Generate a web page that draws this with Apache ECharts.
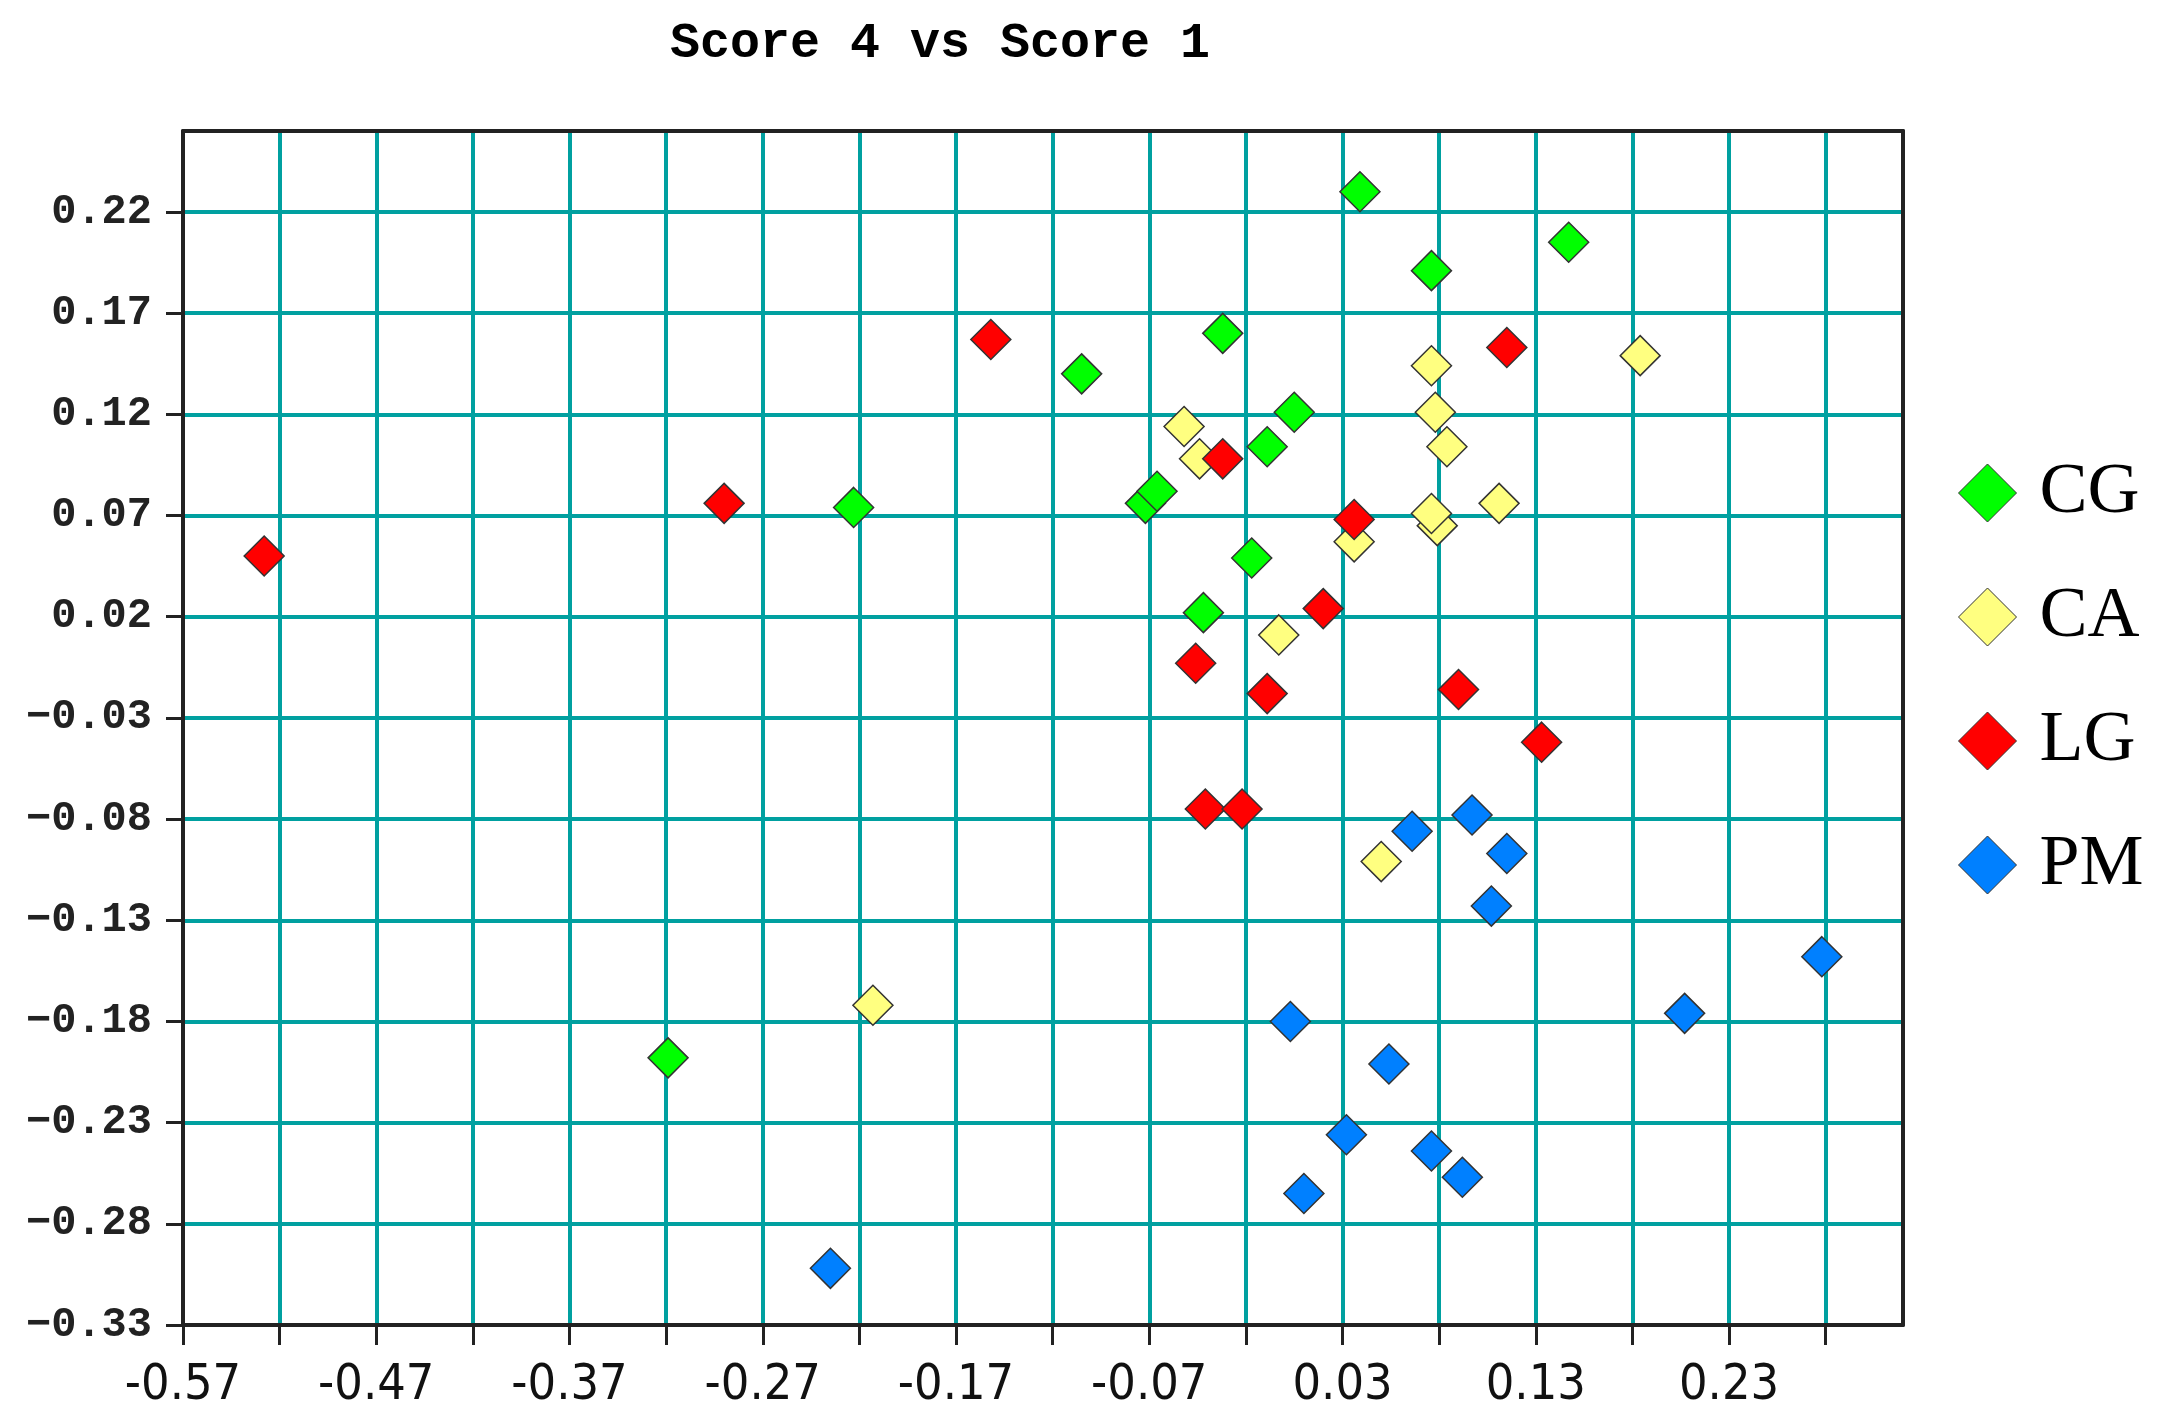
<!DOCTYPE html>
<html>
<head>
<meta charset="utf-8">
<title>Score 4 vs Score 1</title>
<script src="https://cdn.jsdelivr.net/npm/echarts@6/dist/echarts.min.js"></script>
<style>
html, body { margin: 0; padding: 0; background: #fff; }
#chart { width: 2158px; height: 1422px; }
</style>
</head>
<body>
<div id="chart"></div>
<script>
// [score 1, score 4]
const cgPoints = [
  [0.039, 0.230], [0.147, 0.205], [0.076, 0.191], [-0.032, 0.160], [-0.105, 0.140],
  [0.005, 0.121], [-0.009, 0.104], [-0.072, 0.076], [-0.066, 0.082], [-0.223, 0.074],
  [-0.017, 0.049], [-0.042, 0.022], [-0.319, -0.198]
]
const caPoints = [
  [0.184, 0.149], [0.076, 0.144], [0.078, 0.121], [-0.044, 0.098], [-0.052, 0.114],
  [0.084, 0.104], [0.111, 0.076], [0.079, 0.065], [0.076, 0.071], [0.036, 0.057],
  [-0.003, 0.011], [0.050, -0.101], [-0.213, -0.172]
]
const lgPoints = [
  [0.115, 0.153], [-0.152, 0.157], [-0.032, 0.098], [-0.290, 0.076], [0.036, 0.068],
  [-0.528, 0.050], [0.020, 0.024], [-0.046, -0.003], [-0.009, -0.018], [0.090, -0.016],
  [0.133, -0.042], [-0.041, -0.075], [-0.022, -0.075]
]
const pmPoints = [
  [0.066, -0.086], [0.097, -0.078], [0.115, -0.097], [0.107, -0.123], [0.278, -0.148],
  [0.207, -0.176], [0.003, -0.180], [0.054, -0.201], [0.032, -0.236], [0.076, -0.244],
  [0.092, -0.257], [0.010, -0.265], [-0.235, -0.302]
]
const groupNames = ['CG', 'CA', 'LG', 'PM']

const xLabelTicks = [-0.57, -0.47, -0.37, -0.27, -0.17, -0.07, 0.03, 0.13, 0.23]
const yLabelTicks = [0.22, 0.17, 0.12, 0.07, 0.02, -0.03, -0.08, -0.13, -0.18, -0.23, -0.28, -0.33]

const chart = echarts.init(document.getElementById('chart'))

const groupData = [cgPoints, caPoints, lgPoints, pmPoints]
const groupColors = ['#00ff00', '#ffff80', '#ff0000', '#0080ff']

function hasTick (list, v) {
  return list.some(t => Math.abs(t - v) < 1e-6)
}

const gridLine = { show: true, lineStyle: { color: '#00a0a0', width: 4 } }
const axisLine = { show: true, onZero: false, lineStyle: { color: '#222', width: 4 } }
const axisTick = { show: true, inside: false, lineStyle: { color: '#222', width: 3 } }
// top and right edges of the frame, drawn above the grid lines
const frameAxis = {
  type: 'value',
  z: 5,
  axisLine: axisLine,
  axisTick: { show: false },
  axisLabel: { show: false },
  splitLine: { show: false }
}

const option = {
  backgroundColor: '#fff',
  animation: false,
  title: {
    text: 'Score 4 vs Score 1',
    left: 665,
    top: 14,
    textStyle: {
      fontFamily: 'Liberation Mono',
      fontWeight: 'bold',
      fontSize: 50,
      color: '#000'
    }
  },
  legend: {
    orient: 'vertical',
    left: 1953,
    top: 452,
    itemWidth: 58,
    itemHeight: 58,
    itemGap: 52,
    icon: 'diamond',
    data: groupNames,
    itemStyle: { borderColor: '#333', borderWidth: 1 },
    textStyle: {
      fontFamily: 'Liberation Serif',
      fontSize: 72,
      lineHeight: 70,
      color: '#000',
      padding: [0, 0, 0, 18]
    }
  },
  grid: {
    left: 183,
    top: 131,
    right: 255,
    bottom: 97,
    show: false,
    containLabel: false
  },
  xAxis: [{
    type: 'value',
    min: -0.57,
    max: 0.32,
    interval: 0.05,
    axisLine: axisLine,
    axisTick: Object.assign({ length: 20 }, axisTick),
    splitLine: gridLine,
    axisLabel: {
      margin: 36,
      showMinLabel: true,
      showMaxLabel: false,
      hideOverlap: false,
      fontFamily: 'Liberation Sans Narrow, DejaVu Sans Condensed, sans-serif',
      fontSize: 50,
      color: '#111',
      formatter: v => hasTick(xLabelTicks, v) ? v.toFixed(2) : ''
    }
  }, Object.assign({ position: 'top', min: -0.57, max: 0.32 }, frameAxis)],
  yAxis: [{
    type: 'value',
    min: -0.33,
    max: 0.26,
    interval: 0.05,
    axisLine: axisLine,
    axisTick: Object.assign({ length: 17 }, axisTick),
    splitLine: gridLine,
    axisLabel: {
      margin: 31,
      showMinLabel: true,
      showMaxLabel: false,
      hideOverlap: false,
      fontFamily: 'Liberation Mono',
      fontWeight: 'bold',
      fontSize: 42,
      color: '#222',
      formatter: v => hasTick(yLabelTicks, v) ? v.toFixed(2).replace('-', '\u2212') : ''
    }
  }, Object.assign({ position: 'right', min: -0.33, max: 0.26 }, frameAxis)],
  series: groupNames.map((name, i) => ({
    name: name,
    type: 'scatter',
    symbol: 'diamond',
    symbolSize: 40,
    z: 10,
    data: groupData[i],
    itemStyle: {
      color: groupColors[i],
      borderColor: '#333',
      borderWidth: 1.5,
      opacity: 1
    }
  }))
}

chart.setOption(option)
</script>
</body>
</html>
